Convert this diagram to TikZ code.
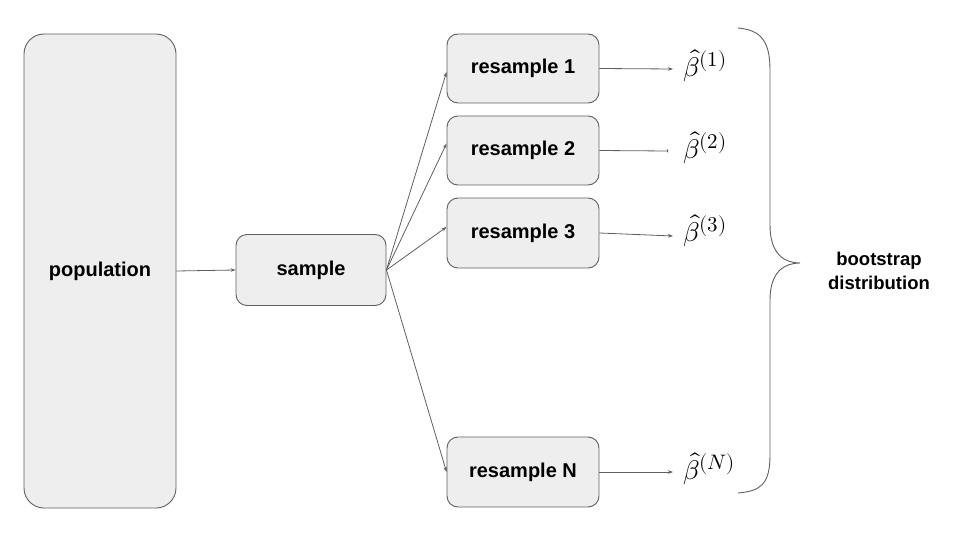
\documentclass[tikz,border=0pt]{standalone}
\usepackage{fontspec}
\usepackage{unicode-math}
\setmathfont{Latin Modern Math}
\setsansfont{Liberation Sans}
\DeclareMathSizes{27}{27}{21}{16}
\usetikzlibrary{arrows.meta,calc}
\definecolor{boxfill}{HTML}{EEEEEE}
\definecolor{boxline}{HTML}{5F5F5F}
\begin{document}
\begin{tikzpicture}[x=1pt,y=-1pt,
  box/.style={draw=boxline, line width=0.9pt, fill=boxfill, rounded corners=11pt,
    font=\sffamily\bfseries\fontsize{20}{22}\selectfont, inner sep=0pt},
  conn/.style={draw=boxline, line width=0.8pt, -{Stealth[length=5pt,width=3.5pt]}},
  est/.style={anchor=west, inner sep=0pt, font=\fontsize{27}{30}\selectfont}]
\useasboundingbox (0,0) rectangle (960,540);
\node[box, minimum width=152pt, minimum height=474pt, rounded corners=20pt] (pop) at (100,271) {population};
\node[box, minimum width=150pt, minimum height=71pt] (samp) at (311,270) {sample};
\node[box, minimum width=152pt, minimum height=69pt] (r1) at (523,68.5) {resample 1};
\node[box, minimum width=152pt, minimum height=69pt] (r2) at (523,150.5) {resample 2};
\node[box, minimum width=152pt, minimum height=70pt] (r3) at (523,233) {resample 3};
\node[box, minimum width=152pt, minimum height=70pt] (rN) at (523,472) {resample N};
\node[est] (b1) at (683,66) {$\hat\beta^{(1)}$};
\node[est] (b2) at (683,148) {$\hat\beta^{(2)}$};
\node[est] (b3) at (683,231) {$\hat\beta^{(3)}$};
\node[est] (bN) at (683,469) {$\hat\beta^{(N)}$};
\node[font=\sffamily\bfseries\fontsize{18.5}{24}\selectfont, align=center, inner sep=0pt] (lab) at (879,271) {bootstrap\\distribution};
\draw[conn] (pop.east) -- (samp.west);
\draw[conn] (samp.east) -- ($(r1.west)+(0,3.5)$);
\draw[conn] (samp.east) -- ($(r2.west)+(0,-7)$);
\draw[conn] (samp.east) -- ($(r3.west)+(0,-6)$);
\draw[conn] (samp.east) -- (rN.west);
\draw[conn] (r1.east) -- ($(b1.west)+(-10,3)$);
\draw[draw=boxline, line width=0.8pt, -{Bar[width=3pt]}] (r2.east) -- ($(b2.west)+(-15,3)$);
\draw[conn] (r3.east) -- ($(b3.west)+(-10,5)$);
\draw[conn] (rN.east) -- ($(bN.west)+(-10,3)$);
\coordinate (bt) at (738,28);
\coordinate (bb) at (738,493);
\coordinate (tip) at (800,263);
\draw[boxline, line width=0.9pt] (bt) .. controls (760,30) and (770,40) .. (770,70)
  -- (770,225) .. controls (770,255) and (785,263) .. (tip)
  .. controls (785,263) and (770,271) .. (770,300)
  -- (770,455) .. controls (770,485) and (760,491) .. (bb);
\end{tikzpicture}
\end{document}
